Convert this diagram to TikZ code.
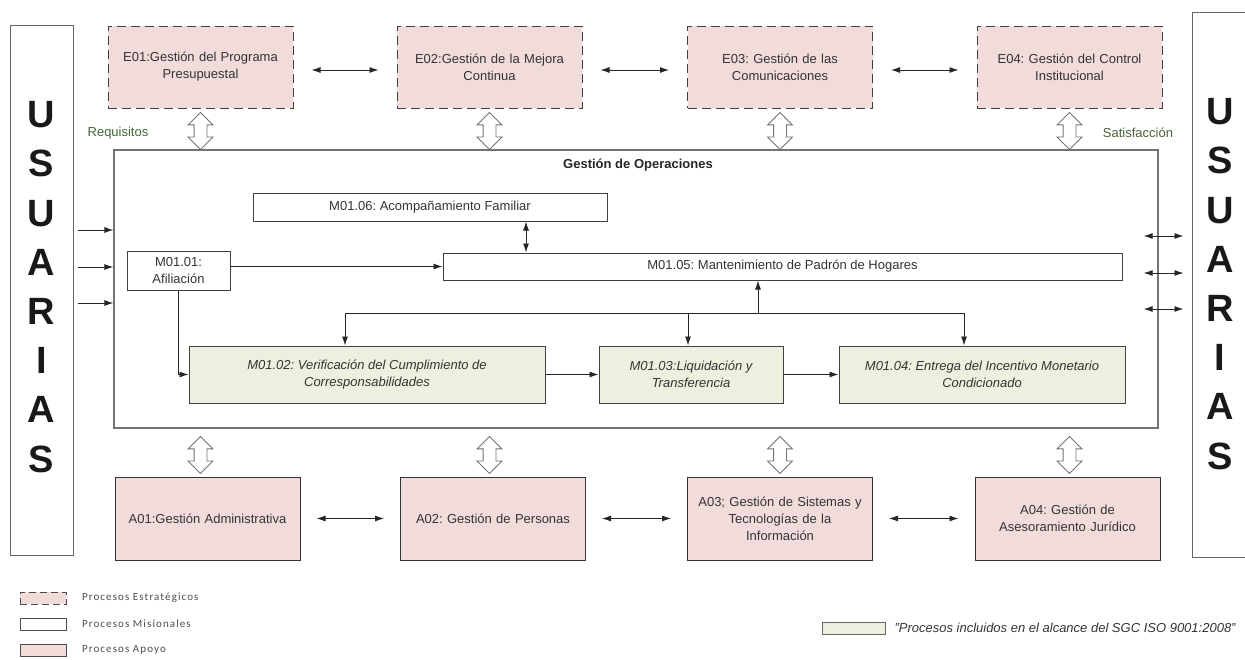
\documentclass[tikz,border=0pt]{standalone}
\usepackage{fontspec}
\setmainfont{Liberation Sans}
\newfontfamily\legfont[LetterSpace=10]{Carlito}
\usetikzlibrary{positioning}
\usetikzlibrary{arrows.meta}
\usetikzlibrary{shapes.arrows}
\usetikzlibrary{calc}
\definecolor{pinkfill}{RGB}{242,220,219}
\definecolor{sgcfill}{RGB}{235,241,222}
\definecolor{reqgreen}{RGB}{70,100,55}
\frenchspacing

\begin{document}
\begin{tikzpicture}[x=1pt, y=-1pt,
usrbox/.style={rectangle, draw=black!60, line width=1pt, fill=white, minimum width=63pt},
usrtext/.style={align=center, font=\fontsize{38}{49.2}\selectfont\bfseries, text=black!90},
estbox/.style={rectangle, draw=black!75, line width=1pt, dash pattern=on 9pt off 5pt, fill=pinkfill, minimum width=185pt, minimum height=82pt, text width=178pt, align=center, font=\fontsize{13}{17}\selectfont, text=black!80},
apobox/.style={rectangle, draw=black!80, line width=1pt, fill=pinkfill, minimum width=185pt, minimum height=83pt, text width=178pt, align=center, font=\fontsize{13}{17}\selectfont, text=black!80},
misbox/.style={rectangle, draw=black!75, line width=1pt, fill=white, inner sep=0pt, align=center, font=\fontsize{13}{17}\selectfont, text=black!80},
sgcbox/.style={misbox, fill=sgcfill, font=\fontsize{13}{17}\selectfont\itshape, minimum height=57pt},
hollow/.style={double arrow, draw=black!55, line width=0.8pt, fill=white, rotate=90, minimum height=37pt, minimum width=24pt, inner sep=6pt, double arrow head extend=6pt},
arr/.style={-{Latex[length=9pt,width=6pt]}, line width=0.9pt, black!85},
darr/.style={{Latex[length=9pt,width=6pt]}-{Latex[length=9pt,width=6pt]}, line width=0.9pt, black!85},
legbox/.style={rectangle, minimum width=46pt, minimum height=12pt, line width=1pt, draw=black!70},
legtext/.style={font=\legfont\fontsize{11}{13}\selectfont, text=black!70},
]
\useasboundingbox (0,0) rectangle (1245,659);
\clip (0,0) rectangle (1245,659);

% usuarias
\node[usrbox, minimum height=530pt] (usl) at (41.5,290) {};
\node[usrtext] (usltxt) at (41.5,287) {U\\S\\U\\A\\R\\I\\A\\S};
\node[usrbox, minimum width=56pt, minimum height=545pt] (usr) at (1220,284.5) {};
\node[usrtext] (usrtxt) at (1220,284) {U\\S\\U\\A\\R\\I\\A\\S};

% estrategicos
\node[estbox] (E01) at (200.5,67) {E01:Gestión del Programa\\Presupuestal};
\node[estbox] (E02) at (489.5,67) {E02:Gestión de la Mejora\\Continua};
\node[estbox] (E03) at (780,67) {E03: Gestión de las\\Comunicaciones};
\node[estbox] (E04) at (1069.5,67) {E04: Gestión del Control\\Institucional};

% operaciones
\node[rectangle, draw=black!55, line width=1.2pt, minimum width=1044pt, minimum height=278pt] (ops) at (636,289) {};
\node[font=\fontsize{13}{15}\selectfont\bfseries, text=black!85] (opstitle) at (638,165) {Gestión de Operaciones};
\node[font=\fontsize{13}{15}\selectfont, text=reqgreen] (req) at (118,133) {Requisitos};
\node[font=\fontsize{13}{15}\selectfont, text=reqgreen] (sat) at (1138,133) {Satisfacción};

\node[misbox, minimum width=354pt, minimum height=28pt] (M0106) at (430,207) {M01.06: Acompañamiento Familiar};
\node[misbox, minimum width=679pt, minimum height=27pt] (M0105) at (782.5,266.5) {M01.05: Mantenimiento de Padrón de Hogares};
\node[misbox, minimum width=103pt, minimum height=39pt] (M0101) at (178.5,270.5) {M01.01:\\Afiliación};
\node[sgcbox, minimum width=356pt] (M0102) at (367,374.5) {M01.02: Verificación del Cumplimiento de\\Corresponsabilidades};
\node[sgcbox, minimum width=184pt] (M0103) at (691,374.5) {M01.03:Liquidación y\\Transferencia};
\node[sgcbox, minimum width=286pt] (M0104) at (982,374.5) {M01.04: Entrega del Incentivo Monetario\\Condicionado};

% apoyo
\node[apobox] (A01) at (207.5,518.5) {A01:Gestión Administrativa};
\node[apobox] (A02) at (493,518.5) {A02: Gestión de Personas};
\node[apobox] (A03) at (780,518.5) {A03; Gestión de Sistemas y\\Tecnologías de la\\Información};
\node[apobox] (A04) at (1067.5,518.5) {A04: Gestión de\\Asesoramiento Jurídico};

% hollow arrows
\foreach \e/\a in {E01/A01,E02/A02,E03/A03,E04/A04} {
  \node[hollow] (h\e) at ($(\e.south)!.55!(\e.south |- ops.north)$) {};
  \node[hollow] (h\a) at ($(\e.south |- ops.south)!.55!(\e.south |- \a.north)$) {};
}

% lines
\draw[darr, shorten <=18pt, shorten >=18pt] ([yshift=-3pt]E01.east) -- ([yshift=-3pt]E02.west);
\draw[darr, shorten <=18pt, shorten >=18pt] ([yshift=-3pt]E02.east) -- ([yshift=-3pt]E03.west);
\draw[darr, shorten <=18pt, shorten >=18pt] ([yshift=-3pt]E03.east) -- ([yshift=-3pt]E04.west);
\draw[darr, shorten <=16pt, shorten >=16pt] (A01) -- (A02);
\draw[darr, shorten <=16pt, shorten >=16pt] (A02) -- (A03);
\draw[darr, shorten <=16pt, shorten >=16pt] (A03) -- (A04);

\foreach \y in {230,267,303}
  \draw[arr] ([xshift=4pt]usl.east |- 0,\y) -- (ops.west |- 0,\y);
\foreach \y in {236,273,309}
  \draw[darr] ([xshift=-15pt]ops.east |- 0,\y) -- ([xshift=-8pt]usr.west |- 0,\y);

\draw[arr] (M0101.east |- M0105.west) -- (M0105.west);
\draw[darr] ([xshift=96pt]M0106.south) -- ([xshift=96pt]M0106.south |- M0105.north);
\draw[arr] (M0101.south) |- (M0102.west);
\draw[arr] (M0102) -- (M0103);
\draw[arr] (M0103) -- (M0104);

\coordinate (hub) at (758,313);
\draw[line width=0.9pt, black!85] ([xshift=-22pt]M0102.north |- hub) -- ([xshift=-18pt]M0104.north |- hub);
\draw[arr] (hub) -- (hub |- M0105.south);
\draw[arr] ([xshift=-22pt]M0102.north |- hub) -- ([xshift=-22pt]M0102.north);
\draw[arr] ([xshift=-3pt]M0103.north |- hub) -- ([xshift=-3pt]M0103.north);
\draw[arr] ([xshift=-18pt]M0104.north |- hub) -- ([xshift=-18pt]M0104.north);

% legend
\node[legbox, fill=pinkfill, dash pattern=on 7pt off 4pt] (lgE) at (43,598) {};
\node[legtext, right=12pt of lgE] (lgEt) {Procesos Estratégicos};
\node[legbox, fill=white] (lgM) at (43,624) {};
\node[legtext, right=12pt of lgM] (lgMt) {Procesos Misionales};
\node[legbox, fill=pinkfill] (lgA) at (43,650) {};
\node[legtext, right=12pt of lgA] (lgAt) {Procesos Apoyo};
\node[legbox, minimum width=63pt, fill=sgcfill, draw=black!60] (lgS) at (854,628) {};
\node[right=5pt of lgS, font=\fontsize{13}{15}\selectfont\itshape, text=black!80] (lgSt) {"Procesos incluidos en el alcance del SGC ISO 9001:2008"};
\end{tikzpicture}
\end{document}
